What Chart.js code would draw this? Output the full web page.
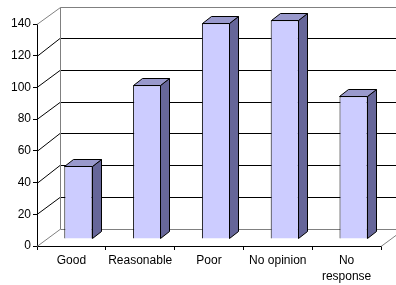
<!DOCTYPE html>
<html>
<head>
<meta charset="utf-8">
<script src="https://cdn.jsdelivr.net/npm/chart.js@4/dist/chart.umd.min.js"></script>
<style>
  html, body { margin: 0; padding: 0; background: #fff; }
  #wrap { width: 396px; height: 285px; }
</style>
</head>
<body>
<div id="wrap"><canvas id="surveyChart" width="396" height="285"></canvas></div>
<script>
const categories = ['Good', 'Reasonable', 'Poor', 'No opinion', ['No', 'response']];
const responses = [46, 97, 136, 138, 90];
const yMin = 0;
const yMax = 140;
const yStep = 20;

// oblique depth of the walls and where the bars sit inside it
const depth = { x: 23, y: -17.5 };
const barShift = { x: 7, y: -7 };
const barDepth = { x: 9, y: -7 };

const crisp = v => Math.round(v) + 0.5;

const box3d = {
    id: 'box3d',
    beforeDatasetsDraw(chart) {
        const ctx = chart.ctx;
        const a = chart.chartArea;
        const y = chart.scales.y;
        const L = a.left, R = a.right;
        const y0 = y.getPixelForValue(yMin);
        const yTop = y.getPixelForValue(yMax);

        ctx.save();
        ctx.lineWidth = 1;

        // gridlines: side wall diagonal + back wall horizontal
        ctx.strokeStyle = '#000';
        for (let v = yMin + yStep; v < yMax; v += yStep) {
            const p = y.getPixelForValue(v);
            ctx.beginPath();
            ctx.moveTo(L, crisp(p));
            ctx.lineTo(L + depth.x, crisp(p + depth.y));
            ctx.lineTo(R + depth.x, crisp(p + depth.y));
            ctx.stroke();
        }

        // wall and floor borders
        ctx.strokeStyle = '#808080';
        ctx.beginPath();
        ctx.moveTo(L, crisp(yTop));
        ctx.lineTo(crisp(L + depth.x), crisp(yTop + depth.y));
        ctx.lineTo(R + depth.x + 2, crisp(yTop + depth.y));
        ctx.moveTo(crisp(L + depth.x), crisp(yTop + depth.y));
        ctx.lineTo(crisp(L + depth.x), crisp(y0 + depth.y));
        ctx.lineTo(R + depth.x, crisp(y0 + depth.y));
        ctx.moveTo(L, crisp(y0));
        ctx.lineTo(L + depth.x, crisp(y0 + depth.y));
        ctx.moveTo(R, crisp(y0));
        ctx.lineTo(R + depth.x, crisp(y0 + depth.y));
        ctx.stroke();
        ctx.restore();

        ctx.save();
        ctx.translate(barShift.x, barShift.y);
    },
    afterDatasetsDraw(chart) {
        const ctx = chart.ctx;
        const meta = chart.getDatasetMeta(0);
        ctx.lineWidth = 1;
        ctx.strokeStyle = '#000';
        meta.data.forEach(bar => {
            const { x, y, base, width } = bar.getProps(['x', 'y', 'base', 'width'], true);
            const l = Math.round(x - width / 2) + 0.5;
            const r = Math.round(x + width / 2) - 0.5;
            const t = Math.round(y) + 0.5;
            const b = Math.round(base) - 0.5;
            // side face
            ctx.beginPath();
            ctx.moveTo(r, t);
            ctx.lineTo(r + barDepth.x, t + barDepth.y);
            ctx.lineTo(r + barDepth.x, b + barDepth.y);
            ctx.lineTo(r, b);
            ctx.closePath();
            ctx.fillStyle = '#666699';
            ctx.fill();
            ctx.stroke();
            // top face
            ctx.beginPath();
            ctx.moveTo(l, t);
            ctx.lineTo(l + barDepth.x, t + barDepth.y);
            ctx.lineTo(r + barDepth.x, t + barDepth.y);
            ctx.lineTo(r, t);
            ctx.closePath();
            ctx.fillStyle = '#9999CC';
            ctx.fill();
            ctx.stroke();
        });
        ctx.restore();
    }
};

const font = { family: "'Liberation Sans', Arial, sans-serif", size: 12, lineHeight: '16px' };

const ctx = document.getElementById('surveyChart').getContext('2d');
const myChart = new Chart(ctx, {
    type: 'bar',
    data: {
        labels: categories,
        datasets: [{
            data: responses,
            backgroundColor: '#CCCCFF',
            borderColor: '#000',
            borderWidth: 1,
            categoryPercentage: 1,
            barPercentage: 0.41,
            clip: false
        }]
    },
    options: {
        responsive: false,
        animation: false,
        layout: { padding: { top: 24, right: 15, left: 0, bottom: 0 } },
        plugins: { legend: { display: false }, tooltip: { enabled: false } },
        scales: {
            x: {
                grid: { offset: true, drawOnChartArea: false, tickLength: 4, color: '#000' },
                border: { color: '#000' },
                ticks: { color: '#000', font, maxRotation: 0, autoSkip: false, padding: 3 },
                afterFit: s => { s.height = 39; }
            },
            y: {
                min: yMin,
                max: yMax,
                grid: { drawOnChartArea: false, tickLength: 4, color: '#000' },
                border: { color: '#000' },
                ticks: { stepSize: yStep, color: '#000', font, padding: 2 },
                afterFit: s => { s.width = 37; }
            }
        }
    },
    plugins: [box3d]
});
</script>
</body>
</html>
